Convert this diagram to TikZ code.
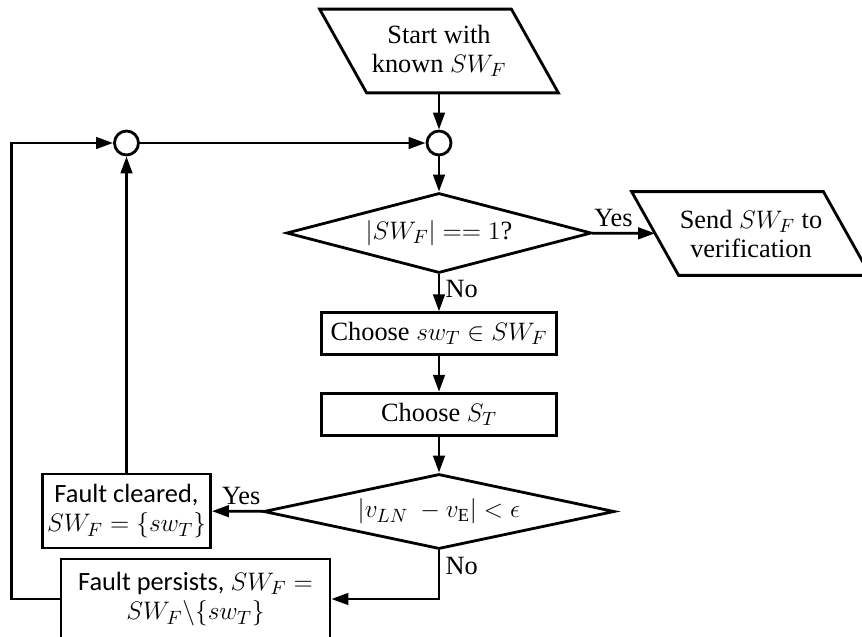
\documentclass[tikz,border=0pt]{standalone}
\usepackage{fontspec}
\setmainfont{Liberation Serif}
\setsansfont{Carlito}
\usetikzlibrary{shapes.geometric,arrows.meta}

\begin{document}
\begin{tikzpicture}[x=0.02cm, y=-0.02cm, >={Triangle[length=3.4mm,width=2.3mm]},
	line width=1.6pt, font=\fontsize{15}{16.5}\selectfont,
	io/.style={rectangle, minimum width=3.78cm, minimum height=1.62cm,
		inner sep=0pt, align=center},
	test/.style={draw, diamond, inner sep=0pt, align=center},
	proc/.style={draw, rectangle, inner sep=0pt, align=center},
	junc/.style={draw, circle, minimum size=0.48cm, inner sep=0pt},
	lbl/.style={inner sep=3pt}]
	\useasboundingbox (0,0) rectangle (862,636);
	% main column
	\node[io] (start) at (439,51) {Start with\\ known $SW_F$};
	\node[junc] (jr) at (439,143) {};
	\node[test, aspect=3.8, minimum width=6.1cm, minimum height=1.6cm] (single) at (439,233) {$|SW_F| \mathrel{==} 1$?};
	\node[io] (send) at (751,233.5) {Send $SW_F$ to\\ verification};
	\node[proc, minimum width=4.7cm, minimum height=0.83cm] (pick) at (439,333.5) {Choose $sw_T\in SW_F$};
	\node[proc, minimum width=4.7cm, minimum height=0.85cm] (choose) at (439,414.5) {Choose $S_T$};
	\node[test, aspect=4.7, minimum width=7.02cm, minimum height=1.5cm] (check) at (439,511.5) {$|v_{LN}\ - v_{\mathrm{E}}| < \epsilon$};
	% feedback side
	\node[junc] (jl) at (126.5,143) {};
	\node[proc, minimum width=3.36cm, minimum height=1.48cm, font=\sffamily\fontsize{15}{17}\selectfont] (cleared) at (126.5,511) {Fault cleared,\\ $SW_F = \{sw_T\}$};
	\node[proc, minimum width=5.38cm, minimum height=1.6cm, font=\sffamily\fontsize{15}{17}\selectfont] (persists) at (195.5,599) {Fault persists, $SW_F =$\\ $SW_F\backslash\{sw_T\}$};

	% slanted input/output boxes
	\foreach \n in {start,send}
	\draw ([xshift=-0.47cm]\n.north west) -- ([xshift=-0.47cm]\n.north east)
		-- ([xshift=0.47cm]\n.south east) -- ([xshift=0.47cm]\n.south west) -- cycle;

	\draw[->] (start) -- (jr);
	\draw[->] (jr) -- (single);
	\draw[->] (single) -- node[lbl, above, pos=0.34] {Yes} (send);
	\draw[->] (single) -- node[lbl, right, pos=0.4] {No} (pick);
	\draw[->] (pick) -- (choose);
	\draw[->] (choose) -- (check);
	\draw[->] (check) -- node[lbl, above, pos=0.43] {Yes} (cleared);
	\draw[->] (check.south) |- node[lbl, right, pos=0.16] {No} (persists.east);
	\draw[->] (cleared) -- (jl);
	\draw[->] (persists.west) -- ++(-48,0) |- (jl.west);
	\draw[->] (jl) -- (jr);
\end{tikzpicture}
\end{document}
